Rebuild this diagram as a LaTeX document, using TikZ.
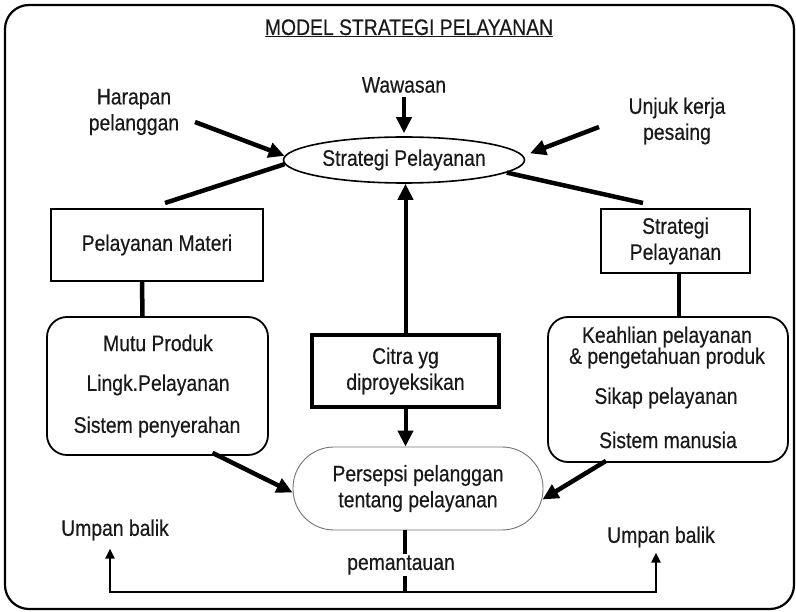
\documentclass[tikz,border=0pt]{standalone}
\usepackage{fontspec}
\setmainfont{Liberation Sans}[FakeStretch=0.86,FakeBold=0.4]
\usetikzlibrary{shapes.geometric,arrows.meta}
\begin{document}
\begin{tikzpicture}[x=1pt,y=-1pt,
  lbl/.style={font=\fontsize{22.5}{26}\selectfont, align=center, inner sep=0pt, text=black!90},
  frame/.style={draw, line width=2.2pt, rounded corners=24pt},
  box/.style={draw, line width=1.6pt, inner sep=0pt},
  roundbox/.style={draw, line width=1.8pt, rounded corners=20pt, inner sep=0pt},
  heavy/.style={line width=4.5pt},
  bigtip/.style={-{Triangle[length=16pt,width=15pt]}},
  smalltip/.style={-{Triangle[length=10pt,width=9pt]}},
  feedback/.style={line width=2.6pt}]
\useasboundingbox (0,0) rectangle (796,612);

% outer frame and title
\node[frame, minimum width=789pt, minimum height=604pt] (border) at (399.5,307) {};
\node[lbl, anchor=base] (title) at (409,35) {\underline{MODEL STRATEGI PELAYANAN}};

% central strategy ellipse and its inputs
\node[lbl, ellipse, draw, line width=1.6pt, minimum width=241pt, minimum height=46pt] (strat) at (404,160) {Strategi Pelayanan};
\node[lbl] (waw) at (404,85) {Wawasan};
\node[lbl] (harap) at (134,112) {Harapan\\pelanggan};
\node[lbl] (unjuk) at (677,121) {Unjuk kerja\\pesaing};
\coordinate (harapT) at (195,122);
\coordinate (unjukT) at (599,127);

\draw[heavy, bigtip, shorten <=4pt, shorten >=3pt] (waw.south) -- (strat.north);
\draw[heavy, bigtip] (harapT) -- (strat.178);
\draw[heavy, bigtip, shorten >=7pt] (unjukT) -- (strat.2);

% branches to the two sides
\coordinate (brL) at (165,203);
\coordinate (brR) at (643,203);
\draw[heavy] (strat.182) -- (brL);
\draw[heavy] (strat.353) -- (brR);

% left column
\node[lbl, box, minimum width=212pt, minimum height=72pt] (pm) at (157,245) {Pelayanan Materi};
\node[roundbox, minimum width=221pt, minimum height=138pt] (lbox) at (157.5,386) {};
\node[lbl] (mutu) at (158,343) {Mutu Produk};
\node[lbl] (lingk) at (158,385) {Lingk.Pelayanan};
\node[lbl] (sispen) at (157,427) {Sistem penyerahan};
\draw[heavy] ([xshift=-15pt]pm.south) -- ([xshift=-15pt]lbox.north);

% right column
\node[lbl, box, minimum width=149pt, minimum height=64pt] (sbox) at (675.5,241) {Strategi\\Pelayanan};
\node[roundbox, minimum width=240pt, minimum height=145pt] (rbox) at (668,389.5) {};
\node[lbl, font=\fontsize{22.5}{21}\selectfont] (keahlian) at (667,347.5) {Keahlian pelayanan\\\& pengetahuan produk};
\node[lbl] (sikap) at (666,398) {Sikap pelayanan};
\node[lbl] (sisman) at (668,440) {Sistem manusia};
\draw[heavy] ([xshift=3.5pt]sbox.south) -- ([xshift=11pt]rbox.north);

% centre column
\node[lbl, box, line width=3.5pt, minimum width=187pt, minimum height=72pt] (citra) at (405.5,371) {Citra yg\\diproyeksikan};
\node[lbl, draw=black!55, line width=0.9pt, rounded corners=41pt, minimum width=250pt, minimum height=83pt] (pers) at (418,488.5) {Persepsi pelanggan\\tentang pelayanan};

\draw[heavy, line width=4pt, bigtip] (citra.north) -- (citra.north |- strat.south);
\draw[heavy, line width=4pt, bigtip] (citra.south) -- (citra.south |- pers.north);
\draw[heavy, bigtip] ([xshift=55pt,yshift=3pt]lbox.south) -- ([yshift=-4pt]pers.west);
\draw[heavy, bigtip] ([xshift=-62pt,yshift=2pt]rbox.south) -- ([xshift=-1pt,yshift=-11pt]pers.east);

% feedback loop
\node[lbl] (ubL) at (115,530) {Umpan balik};
\node[lbl] (ubR) at (661,537) {Umpan balik};
\coordinate (fbmid) at (405,592);
\coordinate (fbL) at (110,592);
\coordinate (fbR) at (656,592);
\draw[line width=3.2pt] ([xshift=-13pt]pers.south) -- (fbmid);
\draw[feedback, smalltip, shorten >=8pt] (fbmid) -- (fbL) -- (fbL |- ubL.south);
\draw[feedback, smalltip, shorten >=5pt] (fbmid) -- (fbR) -- (fbR |- ubR.south);
\node[lbl, fill=white, inner xsep=0pt, inner ysep=1pt] (pemantauan) at (401,565) {pemantauan};
\end{tikzpicture}
\end{document}
